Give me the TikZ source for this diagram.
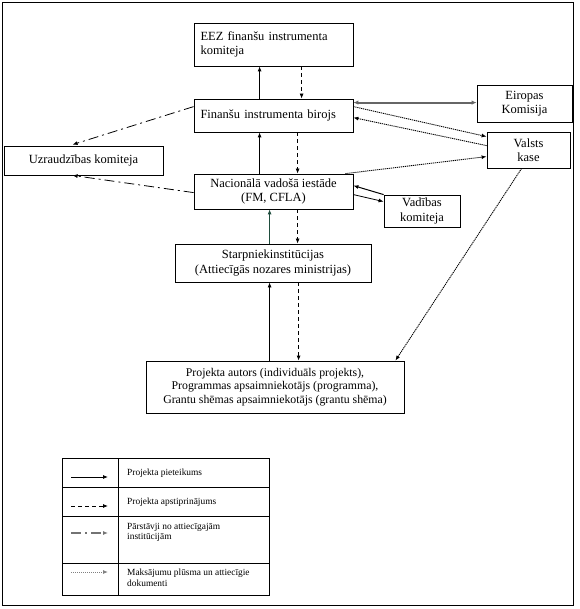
\documentclass[tikz,border=0pt]{standalone}
\usepackage{fontspec}
\setmainfont{Liberation Serif}
\usepackage{tikz}
\usetikzlibrary{arrows.meta, positioning, calc}

\definecolor{darkgreen}{RGB}{31,77,61}

\begin{document}
\begin{tikzpicture}[x=1pt, y=-1pt,
    box/.style={draw, line width=0.8pt, inner sep=0pt, font=\fontsize{12.5}{14.5}\selectfont},
    tip/.style={-{Latex[length=5pt,width=4pt]}},
    appl/.style={tip, line width=0.8pt},
    appr/.style={tip, line width=0.8pt, dash pattern=on 4pt off 3pt},
    repr/.style={tip, line width=0.8pt, dash pattern=on 10pt off 4pt on 2pt off 4pt},
    pay/.style={tip, line width=0.9pt, dash pattern=on 1.2pt off 0.8pt},
    legtext/.style={anchor=west, align=left, inner sep=0pt, font=\fontsize{9.4}{10.5}\selectfont}]
    \useasboundingbox (0,0) rectangle (579,609);
    \draw[line width=0.9pt] (2,2) rectangle (573,605);

    % boxes
    \node[box, minimum width=159pt, minimum height=43pt, align=left, text width=146pt] (eez) at (273.5,44.5)
        {EEZ finanšu instrumenta\\komiteja};
    \node[box, minimum width=159pt, minimum height=33pt, align=left, text width=146pt] (biroj) at (273.5,115.5)
        {Finanšu instrumenta birojs};
    \node[box, minimum width=159pt, minimum height=29pt] (uzr) at (83.5,160.5) {Uzraudzības komiteja};
    \node[box, minimum width=159pt, minimum height=35pt, align=center] (nvi) at (273.5,191.5)
        {Nacionālā vadošā iestāde\\(FM, CFLA)};
    \node[box, minimum width=95pt, minimum height=37pt, align=center] (ek) at (524.5,103.5) {Eiropas\\Komisija};
    \node[box, minimum width=83pt, minimum height=36pt, align=center] (vk) at (528.5,150) {Valsts\\kase};
    \node[box, minimum width=76pt, minimum height=32pt, align=center] (vad) at (422,211) {Vadības\\komiteja};
    \node[box, minimum width=196pt, minimum height=38pt, align=center] (starp) at (273,263)
        {Starpniekinstitūcijas\\(Attiecīgās nozares ministrijas)};
    \node[box, minimum width=258pt, minimum height=52pt, align=center, font=\fontsize{11.8}{13.5}\selectfont] (proj) at (275,387)
        {Projekta autors (individuāls projekts),\\Programmas apsaimniekotājs (programma),\\Grantu shēmas apsaimniekotājs (grantu shēma)};

    % vertical flow
    \draw[appl] ([xshift=66pt]biroj.north west) -- ([xshift=66pt]eez.south west);
    \draw[appr] ([xshift=108pt]eez.south west) -- ([xshift=108pt]biroj.north west);
    \draw[appl] ([xshift=66pt]nvi.north west) -- ([xshift=66pt]biroj.south west);
    \draw[appr] ([xshift=104pt]biroj.south west) -- ([xshift=104pt]nvi.north west);
    \draw[appl, darkgreen] ([xshift=95pt]starp.north west) -- ([xshift=76pt]nvi.south west);
    \draw[appr] ([xshift=104pt]nvi.south west) -- ([xshift=123pt]starp.north west);
    \draw[appl] ([xshift=124pt]proj.north west) -- ([xshift=95pt]starp.south west);
    \draw[appr] ([xshift=124pt]starp.south west) -- ([xshift=153pt]proj.north west);

    % Eiropas Komisija
    \coordinate (b1) at ([yshift=-4pt]biroj.north east);
    \draw[line width=2pt, black!60, {Latex[length=5pt,width=4.5pt]}-{Latex[length=5pt,width=4.5pt]}] (b1) -- (b1 -| ek.west);

    % payments
    \draw[pay] ([yshift=-8pt]biroj.north east) -- ([yshift=-5pt]vk.north west);
    \draw[pay] ([yshift=-14pt]vk.north west) -- ([yshift=-19pt]biroj.north east);
    \draw[pay] ([xshift=-8pt]nvi.north east) -- ([yshift=-25pt]vk.north west);
    \draw[pay] ([xshift=35pt]vk.south west) -- ([xshift=-9pt]proj.north east);

    % Vadibas komiteja
    \draw[appl, line width=1pt] (vad.north west) -- ([yshift=-12pt]nvi.north east);
    \draw[appl] ([yshift=-21pt]nvi.north east) -- ([yshift=-7pt]vad.north west);

    % Uzraudzibas komiteja
    \draw[repr] ([yshift=-8pt]biroj.north west) -- ([xshift=69pt, yshift=1pt]uzr.north west);
    \draw[repr] ([yshift=-19pt]nvi.north west) -- ([xshift=69pt]uzr.south west);

    % legend
    \draw[line width=0.8pt] (62,458) rectangle (269,595);
    \draw[line width=0.8pt] (118,458) -- (118,595);
    \foreach \y in {487,516,563}
        \draw[line width=0.8pt] (62,\y) -- (269,\y);

    \node[legtext] (leg1) at (127,473) {Projekta pieteikums};
    \node[legtext] (leg2) at (127,502) {Projekta apstiprinājums};
    \node[legtext, anchor=north west] (leg3) at (127,523) {Pārstāvji no attiecīgajām\\institūcijām};
    \node[legtext] (leg4) at (127,578) {Maksājumu plūsma un attiecīgie\\dokumenti};

    \coordinate (s1) at (71,477); \coordinate (e1) at (108,477);
    \coordinate (s2) at (71,506); \coordinate (e2) at (108,506);
    \coordinate (s3) at (71,533); \coordinate (e3) at (108,533);
    \coordinate (s4) at (71,572); \coordinate (e4) at (108,572);
    \draw[appl] (s1) -- (e1);
    \draw[appr] (s2) -- (e2);
    \draw[repr, black!55, line width=1.3pt] (s3) -- (e3);
    \draw[pay, black!50] (s4) -- (e4);
\end{tikzpicture}
\end{document}
